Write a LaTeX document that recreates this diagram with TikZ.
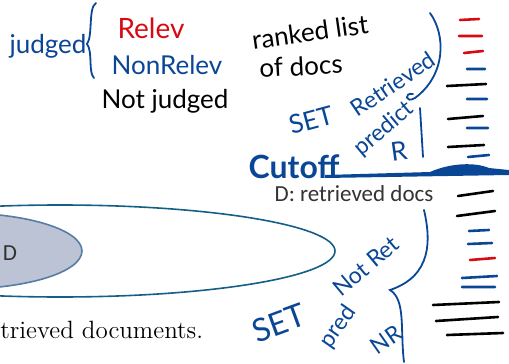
\documentclass[tikz,border=0pt]{standalone}
\usepackage{fontspec}
\usepackage{tikz}
\usetikzlibrary{shapes,arrows}
\newfontfamily\hand{Lato}
\newfontfamily\slide{Carlito}
\definecolor{penblue}{RGB}{10,70,150}
\definecolor{penred}{RGB}{215,10,20}
\definecolor{ringblue}{RGB}{20,95,135}
\definecolor{dfill}{RGB}{188,195,212}
\definecolor{dline}{RGB}{85,125,165}

\begin{document}
\begin{tikzpicture}[x=0.5pt,y=-0.5pt]
 	\def \handsize{\fontsize{13}{13}\selectfont}
 	\def \tiltsize{\fontsize{11.5}{11.5}\selectfont}
 	\def \bigsize{\fontsize{16}{16}\selectfont}
 	\tikzstyle{pen}=[inner sep=0pt,font=\hand\handsize]
 	\tikzstyle{blue-pen}=[pen,text=penblue]
 	\tikzstyle{tilt-pen}=[pen,text=penblue,font=\hand\tiltsize]
 	\tikzstyle{red-pen}=[pen,text=penred]
 	\tikzstyle{black-pen}=[pen,text=black]
 	\tikzstyle{stroke}=[draw=penblue,line width=0.9pt,line cap=round]
 	\tikzstyle{tick}=[line width=1.3pt,line cap=round]
 	\useasboundingbox (0,0) rectangle (509,364);
 	\clip (0,0) rectangle (509,364);
 	% sets of docs
 	\draw[ringblue,line width=0.8pt] (60,251) ellipse (137.5pt and 23pt);
 	\draw[dline,fill=dfill,line width=0.8pt] (-40,251) ellipse (61pt and 19pt);
 	\node[inner sep=0pt,text=black!80,font=\slide\fontsize{11.5}{12}\selectfont] (d-label) at (10,253) {D};
 	\node[inner sep=0pt,text=black!80,font=\slide\fontsize{11.5}{12}\selectfont] (retrieved-label) at (354,194) {D: retrieved docs};
 	\node[inner sep=0pt,anchor=west,font=\fontsize{12.5}{14}\selectfont] (caption) at (0,330) {trieved documents.};
 	% legend
 	\node[blue-pen] 	(judged)	at (48,46)	{judged};
 	\node[red-pen] 	(relev)	at (151,28)	{\fontsize{14}{14}\selectfont Relev};
 	\node[blue-pen] 	(nonrelev)	at (167,65)	{NonRelev};
 	\node[black-pen] 	(notjudged)	at (165,101)	{Not judged};
 	\node[black-pen,rotate=8] 	(ranked)	at (310,32)	{ranked list};
 	\node[black-pen,rotate=3] 	(ofdocs)	at (301,66)	{of docs};
 	% set retrieved
 	\node[blue-pen,rotate=15] 	(set-top)	at (311,120)	{SET};
 	\node[tilt-pen,rotate=34] 	(retrieved)	at (393,84)	{Retrieved};
 	\node[tilt-pen,rotate=40] 	(predict-top)	at (384,129)	{predict};
 	\node[blue-pen,rotate=8] 	(r-top)	at (399,151)	{R};
 	\node[blue-pen,font=\hand\bigsize\bfseries] 	(cutoff)	at (294,167)	{Cutoff};
 	% set not retrieved
 	\node[blue-pen,rotate=20,font=\hand\bigsize] 	(set-bot)	at (279,323)	{SET};
 	\node[tilt-pen,rotate=40] 	(notret)	at (366,266)	{Not Ret};
 	\node[tilt-pen,rotate=55] 	(pred-bot)	at (338,327)	{pred};
 	\node[tilt-pen,rotate=35] 	(nr-bot)	at (386,340)	{NR};
 	% braces
 	\path[stroke] (96,3) .. controls (88,8) and (93,36) .. (87,44) .. controls (93,52) and (88,72) .. (94,78);
 	\path[stroke] (430,13) .. controls (446,35) and (446,75) .. (415,98) .. controls (405,104) and (404,92) .. (413,94);
 	\path[stroke] (420,108) -- (423,157);
 	\path[stroke] (424,210) .. controls (431,240) and (432,276) .. (390,290) .. controls (406,300) and (400,330) .. (404,362);
 	% cutoff
 	\fill[penblue] (325,175) -- (430,172) .. controls (450,163) and (475,162) .. (489,168) -- (509,170) -- (509,175) -- (325,178) -- cycle;
 	% ranked list
 	\path[tick,draw=penred] (460,20) -- (479,19)
 		(459,36) -- (482,36)
 		(464,53) -- (483,51)
 		(470,260) -- (495,258);
 	\path[tick,draw=penblue] (467,69) -- (485,69)
 		(467,99) -- (487,99)
 		(467,128) -- (488,128)
 		(468,157) -- (489,155)

 		(469,231) -- (489,230)
 		(468,244) -- (492,243)
 		(462,278) -- (497,276)
 		(462,287) -- (495,287);
 	\path[tick,draw=black] (447,86) -- (486,84)
 		(448,119) -- (483,116)
 		(448,147) -- (484,145)

 		(458,196) -- (493,191)
 		(457,216) -- (495,211)
 		(433,305) -- (499,302)
 		(436,321) -- (498,317)
 		(447,335) -- (503,333);
\end{tikzpicture}
\end{document}
